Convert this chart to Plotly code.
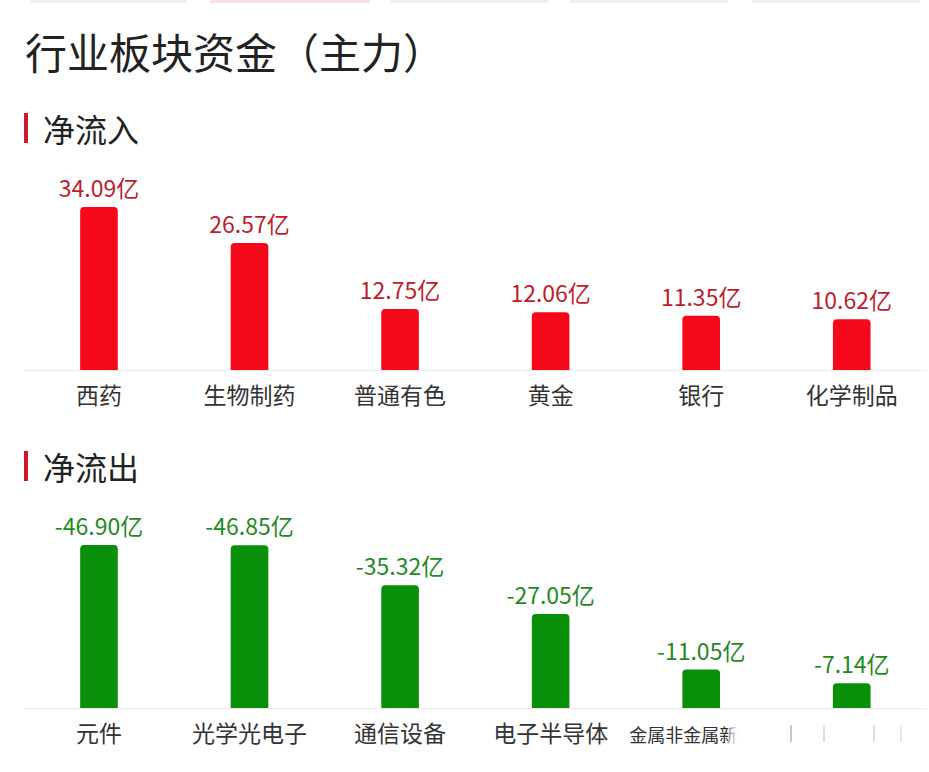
import plotly.graph_objects as go

W, H = 929, 772

in_cats = ["西药", "生物制药", "普通有色", "黄金", "银行", "化学制品"]
in_vals = [34.09, 26.57, 12.75, 12.06, 11.35, 10.62]

out_cats = ["元件", "光学光电子", "通信设备", "电子半导体", "金属非金属新材料", "_6"]
out_ticks = ["元件", "光学光电子", "通信设备", "电子半导体",
             "<span style='font-size:18px'>金属非金属新材料</span>", ""]
out_vals = [-46.90, -46.85, -35.32, -27.05, -11.05, -7.14]

FONT = "Noto Sans CJK SC"
RED_BAR, RED_TXT = "#f5081a", "#c01c2c"
GRN_BAR, GRN_TXT = "#0a8f0a", "#1f8a22"

def py(p):  # pixel y -> paper fraction
    return 1 - p / H

def px(p):
    return p / W

fig = go.Figure()
fig.add_trace(go.Bar(
    x=in_cats, y=in_vals, xaxis="x", yaxis="y",
    marker=dict(color=RED_BAR, cornerradius=4, line=dict(width=0)),
    text=[f"{v:.2f}亿" for v in in_vals], textposition="outside", constraintext="none",
    textfont=dict(color=RED_TXT, size=23, family=FONT), cliponaxis=False,
    hoverinfo="skip"))
fig.add_trace(go.Bar(
    x=out_cats, y=[abs(v) for v in out_vals], xaxis="x2", yaxis="y2",
    marker=dict(color=GRN_BAR, cornerradius=4, line=dict(width=0)),
    text=[f"{v:.2f}亿" for v in out_vals], textposition="outside", constraintext="none",
    textfont=dict(color=GRN_TXT, size=23, family=FONT), cliponaxis=False,
    hoverinfo="skip"))

xdom = [px(23.7), px(927)]
axis_common = dict(domain=xdom, showgrid=False, zeroline=False, showline=True,
                   linecolor="#ececec", linewidth=1, ticks="",
                   tickfont=dict(size=23, color="#333", family=FONT))
fig.update_layout(
    width=W, height=H, margin=dict(l=0, r=0, t=0, b=0),
    paper_bgcolor="white", plot_bgcolor="white", showlegend=False,
    bargap=0.75, font=dict(family=FONT),
    xaxis=dict(**axis_common, anchor="y", ticklabelstandoff=5),
    yaxis=dict(domain=[py(370), py(170)], range=[0, 200 / 4.78], visible=False),
    xaxis2=dict(**axis_common, anchor="y2", ticklabelstandoff=5,
                tickmode="array", tickvals=out_cats, ticktext=out_ticks),
    yaxis2=dict(domain=[py(708), py(508)], range=[0, 200 / 3.475], visible=False),
)

annotations = [
    dict(text="行业板块资金（主力）", x=px(23), y=py(50), xanchor="left", yanchor="middle",
         font=dict(size=42, color="#222", family=FONT)),
    dict(text="净流入", x=px(41), y=py(128), xanchor="left", yanchor="middle",
         font=dict(size=32, color="#222", family=FONT)),
    dict(text="净流出", x=px(41), y=py(466), xanchor="left", yanchor="middle",
         font=dict(size=32, color="#222", family=FONT)),
]
for a in annotations:
    a.update(xref="paper", yref="paper", showarrow=False)
fig.update_layout(annotations=annotations)

def rect(x0, x1, y0, y1, color, opacity=1.0):
    return dict(type="rect", xref="paper", yref="paper",
                x0=px(x0), x1=px(x1), y0=py(y1), y1=py(y0),
                fillcolor=color, opacity=opacity, line=dict(width=0), layer="above")

shapes = [
    rect(24, 28, 113, 143, "#cc1a28"),
    rect(24, 28, 451, 481, "#cc1a28"),
]
# faint top strip
for x0, x1, c in [(30, 187, "#efefef"), (210, 370, "#f6e0e0"), (390, 548, "#efefef"),
                  (570, 728, "#efefef"), (752, 920, "#efefef")]:
    shapes.append(rect(x0, x1, 0, 3, c))
# white fade over the truncated last label
n = 4
for i in range(n):
    x0 = 728 + i * 3
    shapes.append(rect(x0, x0 + 3, 717, 752, "white", 0.45 + 0.5 * i / (n - 1)))
shapes.append(rect(740, 929, 717, 752, "white"))
for sx, c in [(790, "#c8c8c8"), (823, "#dddddd"), (873, "#e2e2e2"), (900, "#e8e8e8")]:
    shapes.append(rect(sx, sx + 2, 725, 742, c))
fig.update_layout(shapes=shapes)

fig.write_html("out.html")
